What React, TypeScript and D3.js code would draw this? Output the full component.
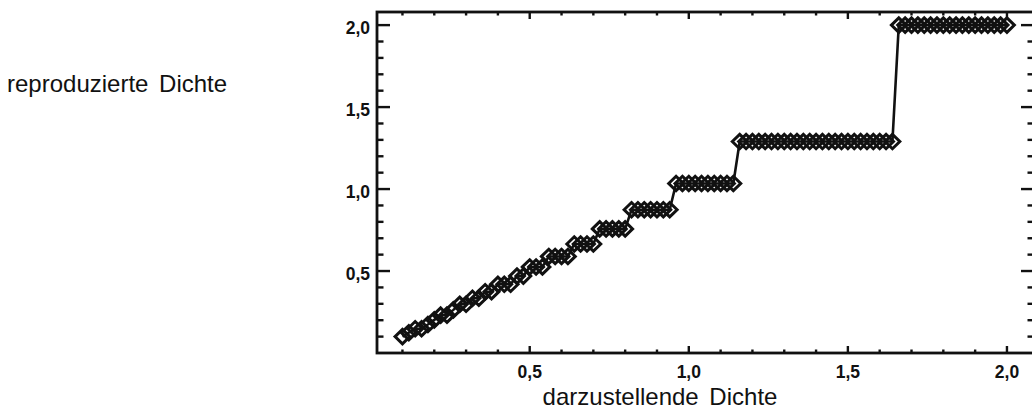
import React from "react";
import * as d3 from "d3";

// Desired density (x) and the density the process actually reproduces (y)
const desired = [
  0.10, 0.12, 0.14, 0.16, 0.18, 0.20, 0.22, 0.24, 0.26, 0.28,
  0.30, 0.32, 0.34, 0.36, 0.38, 0.40, 0.42, 0.44, 0.46, 0.48,
  0.50, 0.52, 0.54, 0.56, 0.58, 0.60, 0.62, 0.64, 0.66, 0.68,
  0.70, 0.72, 0.74, 0.76, 0.78, 0.80, 0.82, 0.84, 0.86, 0.88,
  0.90, 0.92, 0.94, 0.96, 0.98, 1.00, 1.02, 1.04, 1.06, 1.08,
  1.10, 1.12, 1.14, 1.16, 1.18, 1.20, 1.22, 1.24, 1.26, 1.28,
  1.30, 1.32, 1.34, 1.36, 1.38, 1.40, 1.42, 1.44, 1.46, 1.48,
  1.50, 1.52, 1.54, 1.56, 1.58, 1.60, 1.62, 1.64, 1.66, 1.68,
  1.70, 1.72, 1.74, 1.76, 1.78, 1.80, 1.82, 1.84, 1.86, 1.88,
  1.90, 1.92, 1.94, 1.96, 1.98, 2.00,
];

const reproduced = [
  0.100, 0.124, 0.148, 0.148, 0.174, 0.202, 0.231, 0.231, 0.263, 0.297,
  0.297, 0.334, 0.334, 0.374, 0.374, 0.419, 0.419, 0.419, 0.469, 0.469,
  0.525, 0.525, 0.525, 0.589, 0.589, 0.589, 0.589, 0.665, 0.665, 0.665,
  0.665, 0.757, 0.757, 0.757, 0.757, 0.757, 0.874, 0.874, 0.874, 0.874,
  0.874, 0.874, 0.874, 1.034, 1.034, 1.034, 1.034, 1.034, 1.034, 1.034,
  1.034, 1.034, 1.034, 1.290, 1.290, 1.290, 1.290, 1.290, 1.290, 1.290,
  1.290, 1.290, 1.290, 1.290, 1.290, 1.290, 1.290, 1.290, 1.290, 1.290,
  1.290, 1.290, 1.290, 1.290, 1.290, 1.290, 1.290, 1.290, 2.000, 2.000,
  2.000, 2.000, 2.000, 2.000, 2.000, 2.000, 2.000, 2.000, 2.000, 2.000,
  2.000, 2.000, 2.000, 2.000, 2.000, 2.000,
];

const majorTicks = [0.5, 1.0, 1.5, 2.0];
const minorTicks = [
  0.1, 0.2, 0.3, 0.4, 0.6, 0.7, 0.8, 0.9, 1.1, 1.2,
  1.3, 1.4, 1.6, 1.7, 1.8, 1.9,
];
const xTickLabels = ["0,5", "1,0", "1,5", "2,0"];
const yTickLabels = ["0,5", "1,0", "1,5", "2,0"];

const xTitle = "darzustellende Dichte";
const yTitle = "reproduzierte Dichte";

const W = 1032;
const H = 412;
const plot = { left: 377, right: 1034, top: 12, bottom: 353 };

export default function App() {
  const x = d3.scaleLinear().domain([0.02, 2.085]).range([plot.left, plot.right]);
  const y = d3.scaleLinear().domain([0, 2.08]).range([plot.bottom, plot.top]);

  const points = desired.map((d, i) => [d, reproduced[i]] as [number, number]);
  const line = d3
    .line<[number, number]>()
    .x((d) => x(d[0]))
    .y((d) => y(d[1]));

  const dw = 7.4; // diamond half-width
  const dh = 7.2; // diamond half-height
  const diamond = (cx: number, cy: number) =>
    `M${cx - dw},${cy}L${cx},${cy - dh}L${cx + dw},${cy}L${cx},${cy + dh}Z`;

  // tick lengths: y-axis ticks scale with plot width, x-axis ticks with plot height
  const yMaj = 13;
  const yMin = 6.5;
  const xMaj = 7;
  const xMin = 3.5;

  const ink = "#111";
  const font = "'Liberation Sans', Arial, Helvetica, sans-serif";

  return (
    <svg
      width={W}
      height={H}
      viewBox={`0 0 ${W} ${H}`}
      style={{ position: "absolute", left: 0, top: 0, background: "#fff" }}
    >
      <rect x={0} y={0} width={W} height={H} fill="#fff" />

      {/* frame */}
      <rect
        x={plot.left}
        y={plot.top}
        width={plot.right - plot.left}
        height={plot.bottom - plot.top}
        fill="none"
        stroke={ink}
        strokeWidth={2.8}
      />

      {/* y ticks, left and right */}
      {[...majorTicks.map((v) => [v, yMaj]), ...minorTicks.map((v) => [v, yMin])].map(
        ([v, len], i) => (
          <g key={`yt${i}`} stroke={ink} strokeWidth={2.4}>
            <line x1={plot.left} x2={plot.left + len} y1={y(v)} y2={y(v)} />
            <line x1={plot.right} x2={plot.right - len} y1={y(v)} y2={y(v)} />
          </g>
        )
      )}

      {/* x ticks, bottom and top */}
      {[...majorTicks.map((v) => [v, xMaj]), ...minorTicks.map((v) => [v, xMin])].map(
        ([v, len], i) => (
          <g key={`xt${i}`} stroke={ink} strokeWidth={2.4}>
            <line x1={x(v)} x2={x(v)} y1={plot.bottom} y2={plot.bottom - len} />
            <line x1={x(v)} x2={x(v)} y1={plot.top} y2={plot.top + len} />
          </g>
        )
      )}

      {/* tick labels */}
      {majorTicks.map((v, i) => (
        <text
          key={`xl${i}`}
          x={x(v)}
          y={378}
          textAnchor="middle"
          fontFamily={font}
          fontWeight="bold"
          fontSize={17.5}
          fill={ink}
        >
          {xTickLabels[i]}
        </text>
      ))}
      {majorTicks.map((v, i) => (
        <text
          key={`yl${i}`}
          x={370}
          y={y(v) + 8.5}
          textAnchor="end"
          fontFamily={font}
          fontWeight="bold"
          fontSize={17.5}
          fill={ink}
        >
          {yTickLabels[i]}
        </text>
      ))}

      {/* axis titles */}
      <text
        x={660}
        y={405}
        textAnchor="middle"
        fontFamily={font}
        fontSize={24}
        wordSpacing={4}
        fill={ink}
      >
        {xTitle}
      </text>
      <text x={7} y={92} fontFamily={font} fontSize={24} wordSpacing={4} fill={ink}>
        {yTitle}
      </text>

      {/* data line with diamond markers */}
      <path d={line(points) ?? ""} fill="none" stroke={ink} strokeWidth={2.6} />
      {points.map((p, i) => (
        <path
          key={`m${i}`}
          d={diamond(x(p[0]), y(p[1]))}
          fill="none"
          stroke={ink}
          strokeWidth={3}
          strokeLinejoin="miter"
        />
      ))}
    </svg>
  );
}
